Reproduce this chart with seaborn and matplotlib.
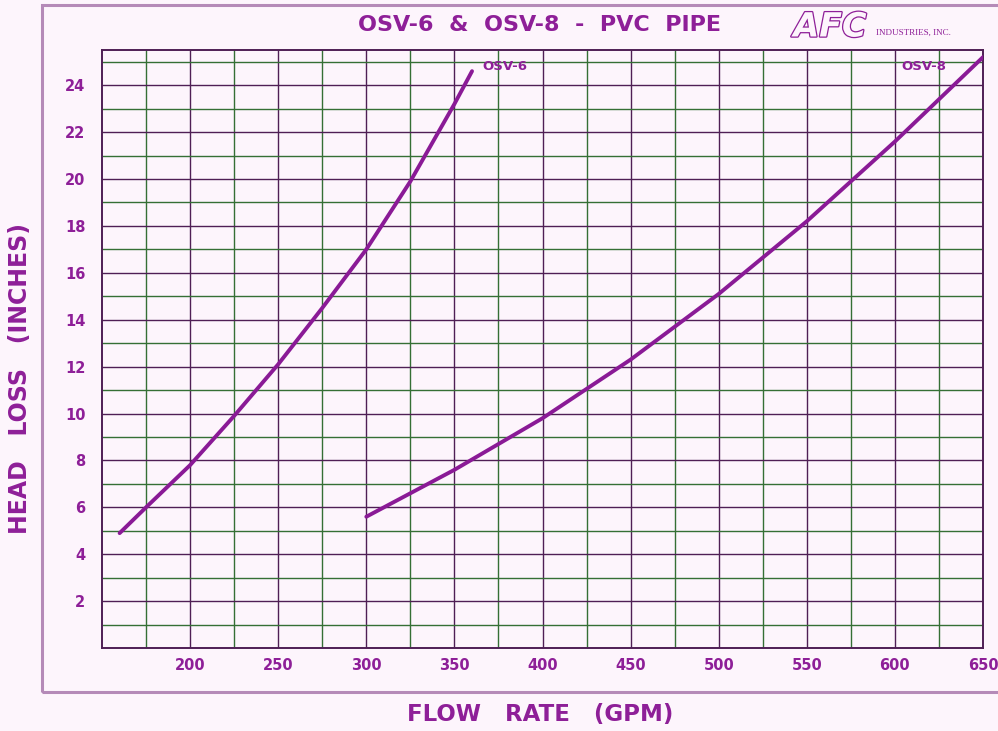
import numpy as np
import pandas as pd
import matplotlib
matplotlib.use("Agg")
import matplotlib.pyplot as plt
import matplotlib.patheffects as pe
from matplotlib.patches import Rectangle
import seaborn as sns

# ── DATA ─────────────────────────────────────────────────────────────────────
OSV6_FLOW = [160, 175, 200, 225, 250, 275, 300, 325, 350, 360]
OSV6_HEAD = [4.9, 6.0, 7.8, 9.9, 12.1, 14.5, 17.0, 19.9, 23.2, 24.6]

OSV8_FLOW = [300, 350, 400, 450, 500, 550, 600, 650]
OSV8_HEAD = [5.6, 7.6, 9.8, 12.3, 15.1, 18.2, 21.6, 25.2]

X_TICKS = [200, 250, 300, 350, 400, 450, 500, 550, 600, 650]
Y_TICKS = [2, 4, 6, 8, 10, 12, 14, 16, 18, 20, 22, 24]

# ── STYLE ────────────────────────────────────────────────────────────────────
BG     = "#fdf5fc"
PURPLE = "#8e1f98"
LINE   = "#8a1a96"
MAJOR  = "#4f1f55"
MINOR  = "#356f35"
FRAME  = "#b58ab8"

sns.set_style("white")
plt.rcParams["font.family"] = ["DejaVu Sans"]

df = pd.concat([
    pd.DataFrame({"flow": OSV6_FLOW, "head": OSV6_HEAD, "model": "OSV-6"}),
    pd.DataFrame({"flow": OSV8_FLOW, "head": OSV8_HEAD, "model": "OSV-8"}),
])

fig = plt.figure(figsize=(9.98, 7.31), dpi=100, facecolor=BG)
ax = fig.add_axes([0.1022, 0.1135, 0.8828, 0.818])
ax.set_facecolor(BG)

# outer frame
fig.patches.append(Rectangle((42 / 998, 1 - 692 / 731), 1.0, (692 - 5) / 731,
                             transform=fig.transFigure, fill=False,
                             edgecolor=FRAME, lw=2.2, zorder=0))

# grid: purple every 50 GPM / 2 in, green in between
for x in np.arange(175, 650, 25):
    ax.axvline(x, color=MAJOR if x % 50 == 0 else MINOR, lw=1.0, zorder=1)
for y in np.arange(1, 26, 1):
    ax.axhline(y, color=MAJOR if y % 2 == 0 else MINOR, lw=1.0, zorder=1)

sns.lineplot(data=df, x="flow", y="head", units="model", estimator=None,
             sort=False, color=LINE, lw=2.8, ax=ax, zorder=3, legend=False)

ax.set_xlim(150, 650)
ax.set_ylim(0, 25.5)
ax.set_xticks(X_TICKS)
ax.set_xticklabels([str(v) for v in X_TICKS], fontsize=10.5,
                   fontweight="bold", color=PURPLE)
ax.set_yticks(Y_TICKS)
ax.set_yticklabels([str(v) for v in Y_TICKS], fontsize=10.5,
                   fontweight="bold", color=PURPLE)
ax.tick_params(axis="x", length=0, pad=7)
ax.tick_params(axis="y", length=0, pad=12)
for s in ax.spines.values():
    s.set_color(MAJOR)
    s.set_linewidth(1.4)
ax.set_xlabel("")
ax.set_ylabel("")

# curve labels
ax.text(366, 24.8, "OSV-6", fontsize=9.5, fontweight="bold", color=PURPLE,
        va="center", ha="left", zorder=4)
ax.text(629, 24.8, "OSV-8", fontsize=9.5, fontweight="bold", color=PURPLE,
        va="center", ha="right", zorder=4)

# titles
fig.text(540 / 998, 1 - 25 / 731, "OSV-6  &  OSV-8  -  PVC  PIPE",
         fontsize=16, fontweight="bold", color=PURPLE, ha="center", va="center")
fig.text(540 / 998, 1 - 714 / 731, "FLOW   RATE   (GPM)",
         fontsize=16.5, fontweight="bold", color=PURPLE, ha="center", va="center")
fig.text(20 / 998, 1 - 378 / 731, "HEAD   LOSS   (INCHES)", rotation=90,
         fontsize=17, fontweight="bold", color=PURPLE, ha="center", va="center")

# logo
logo = fig.text(830 / 998, 1 - 27 / 731, "AFC", fontsize=24, fontstyle="italic",
                fontweight="bold", color=BG, ha="center", va="center")
logo.set_path_effects([pe.Stroke(linewidth=1.8, foreground=PURPLE), pe.Normal()])
fig.text(876 / 998, 1 - 33 / 731, "INDUSTRIES, INC.", fontsize=6.5,
         family="Liberation Serif", color=PURPLE, ha="left", va="center")

fig.savefig("out.png", dpi=100, facecolor=BG)
